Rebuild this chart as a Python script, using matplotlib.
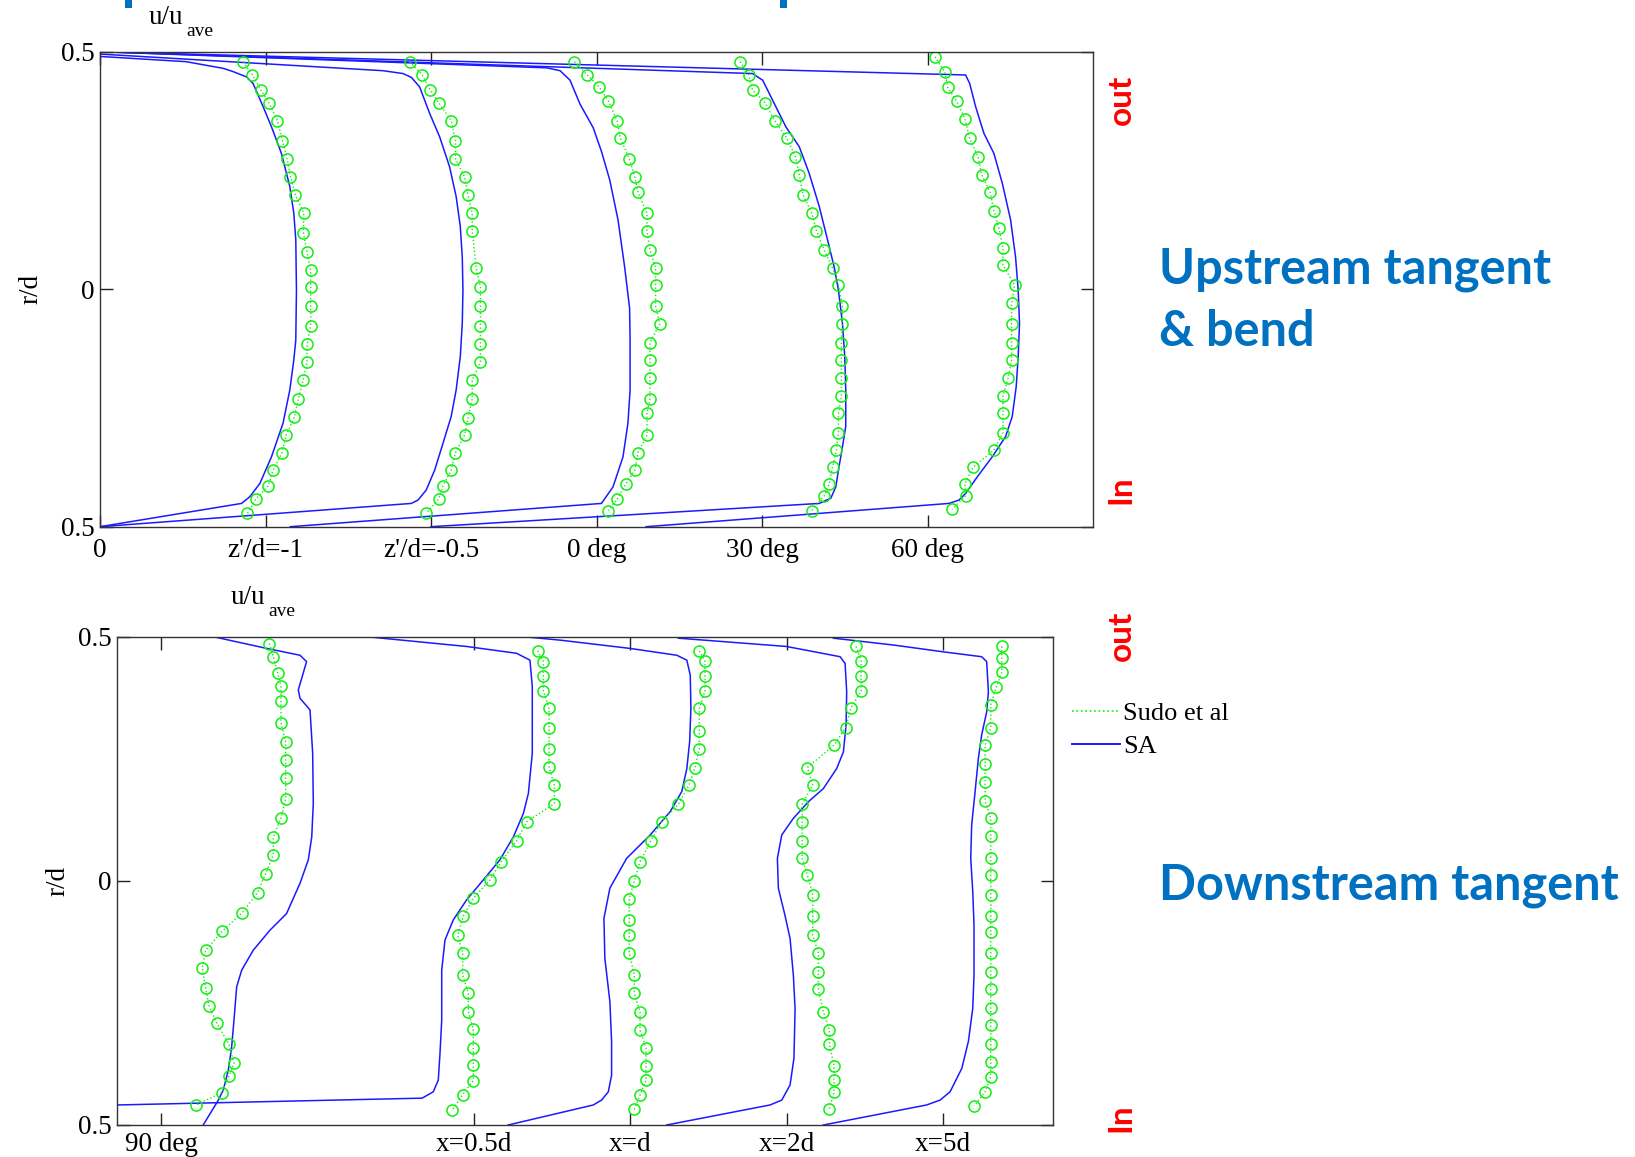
import matplotlib
matplotlib.use("Agg")
import matplotlib.pyplot as plt
from matplotlib.lines import Line2D
from matplotlib.patches import Rectangle

# ---------------- data (abscissa = u/u_ave shifted per station, as plotted) ----------------
top_tick_labels = ["0", "z'/d=-1", "z'/d=-0.5", "0 deg", "30 deg", "60 deg"]
top_tick_pos = [0, 1, 2, 3, 4, 5]
bot_tick_labels = ["90 deg", "x=0.5d", "x=d", "x=2d", "x=5d"]
bot_tick_pos = [0, 2, 3, 4, 5]
y_tick_pos = [-0.5, 0, 0.5]
y_tick_labels = ["0.5", "0", "0.5"]

# --- upstream tangent & bend : SA ---
t0_sa_x = [0.0, 0.52, 0.744, 0.805, 0.885, 0.925, 0.986, 1.036, 1.096, 1.147, 1.171, 1.183, 1.187, 1.183, 1.171, 1.147, 1.106, 1.036, 0.966, 0.905, 0.855, 0.0]
t0_sa_r = [0.49, 0.479, 0.465, 0.458, 0.447, 0.433, 0.384, 0.342, 0.286, 0.216, 0.160, 0.104, -0.002, -0.107, -0.149, -0.212, -0.282, -0.353, -0.409, -0.437, -0.451, -0.5]
t1_sa_x = [0.0, 1.71, 1.831, 1.881, 1.931, 1.992, 2.052, 2.112, 2.152, 2.177, 2.189, 2.193, 2.189, 2.177, 2.152, 2.122, 2.072, 2.022, 1.971, 1.921, 1.881, 0.0]
t1_sa_r = [0.495, 0.46, 0.454, 0.446, 0.426, 0.370, 0.321, 0.258, 0.195, 0.132, 0.068, -0.002, -0.072, -0.142, -0.212, -0.268, -0.325, -0.381, -0.423, -0.444, -0.451, -0.5]
t2_sa_x = [0.0, 2.70, 2.78, 2.84, 2.90, 2.98, 3.03, 3.08, 3.13, 3.17, 3.20, 3.203, 3.203, 3.19, 3.16, 3.10, 3.03, 1.15]
t2_sa_r = [0.5, 0.466, 0.46, 0.44, 0.39, 0.34, 0.29, 0.23, 0.146, 0.047, -0.04, -0.107, -0.212, -0.282, -0.353, -0.416, -0.451, -0.5]
t3_sa_x = [0.0, 3.943, 4.004, 4.064, 4.144, 4.225, 4.285, 4.346, 4.396, 4.436, 4.462, 4.486, 4.500, 4.506, 4.506, 4.486, 4.462, 4.446, 4.416, 4.346, 2.0]
t3_sa_r = [0.5, 0.454, 0.440, 0.398, 0.342, 0.300, 0.244, 0.174, 0.104, 0.047, -0.002, -0.072, -0.142, -0.212, -0.289, -0.332, -0.381, -0.416, -0.440, -0.451, -0.5]
t4_sa_x = [0.0, 5.230, 5.255, 5.291, 5.341, 5.401, 5.452, 5.502, 5.532, 5.548, 5.556, 5.548, 5.536, 5.512, 5.472, 5.391, 5.301, 5.230, 5.190, 5.130, 3.30]
t4_sa_r = [0.5, 0.451, 0.433, 0.384, 0.328, 0.286, 0.223, 0.146, 0.068, -0.002, -0.072, -0.142, -0.205, -0.268, -0.310, -0.353, -0.395, -0.430, -0.444, -0.451, -0.5]

# --- upstream tangent & bend : Sudo et al ---
t0_ex_x = [0.865, 0.919, 0.972, 1.020, 1.072, 1.102, 1.131, 1.151, 1.181, 1.231, 1.229, 1.251, 1.273, 1.273, 1.273, 1.273, 1.251, 1.251, 1.227, 1.199, 1.175, 1.125, 1.100, 1.046, 1.016, 0.941, 0.891]
t0_ex_r = [0.479, 0.452, 0.419, 0.393, 0.355, 0.313, 0.274, 0.237, 0.198, 0.160, 0.118, 0.078, 0.040, 0.004, -0.035, -0.077, -0.116, -0.154, -0.191, -0.231, -0.269, -0.307, -0.344, -0.381, -0.414, -0.442, -0.472]
t1_ex_x = [1.871, 1.945, 1.996, 2.046, 2.122, 2.148, 2.148, 2.203, 2.223, 2.249, 2.249, 2.273, 2.299, 2.299, 2.299, 2.299, 2.299, 2.249, 2.249, 2.223, 2.203, 2.148, 2.122, 2.072, 2.046, 1.971]
t1_ex_r = [0.479, 0.452, 0.419, 0.393, 0.355, 0.313, 0.274, 0.237, 0.198, 0.160, 0.123, 0.045, 0.004, -0.035, -0.077, -0.116, -0.154, -0.191, -0.231, -0.272, -0.307, -0.344, -0.381, -0.414, -0.442, -0.472]
t2_ex_x = [2.867, 2.941, 3.018, 3.072, 3.124, 3.144, 3.199, 3.231, 3.251, 3.305, 3.305, 3.323, 3.357, 3.357, 3.357, 3.382, 3.323, 3.323, 3.323, 3.323, 3.305, 3.305, 3.251, 3.231, 3.177, 3.124, 3.072]
t2_ex_r = [0.479, 0.452, 0.425, 0.396, 0.355, 0.318, 0.274, 0.237, 0.204, 0.160, 0.123, 0.082, 0.045, 0.009, -0.035, -0.073, -0.113, -0.149, -0.186, -0.231, -0.261, -0.307, -0.344, -0.381, -0.410, -0.442, -0.466]
t3_ex_x = [3.868, 3.919, 3.943, 4.019, 4.076, 4.150, 4.202, 4.225, 4.249, 4.301, 4.329, 4.376, 4.426, 4.462, 4.486, 4.486, 4.480, 4.480, 4.480, 4.480, 4.462, 4.462, 4.450, 4.426, 4.406, 4.376, 4.301]
t3_ex_r = [0.479, 0.452, 0.419, 0.393, 0.355, 0.318, 0.279, 0.241, 0.198, 0.160, 0.123, 0.082, 0.045, 0.009, -0.035, -0.073, -0.113, -0.149, -0.186, -0.225, -0.261, -0.302, -0.339, -0.375, -0.410, -0.435, -0.466]
t4_ex_x = [5.045, 5.104, 5.122, 5.176, 5.226, 5.254, 5.305, 5.327, 5.379, 5.401, 5.432, 5.456, 5.456, 5.526, 5.508, 5.508, 5.508, 5.508, 5.488, 5.456, 5.456, 5.456, 5.401, 5.275, 5.226, 5.230, 5.150]
t4_ex_r = [0.489, 0.458, 0.425, 0.396, 0.359, 0.318, 0.279, 0.241, 0.204, 0.165, 0.128, 0.087, 0.051, 0.009, -0.030, -0.073, -0.113, -0.149, -0.186, -0.225, -0.261, -0.302, -0.339, -0.375, -0.410, -0.435, -0.463]

# --- downstream tangent : SA ---
b0_sa_x = [0.335, 0.676, 0.889, 0.931, 0.878, 0.889, 0.953, 0.970, 0.974, 0.964, 0.942, 0.889, 0.803, 0.697, 0.590, 0.516, 0.484, 0.467, 0.452, 0.431, 0.399, 0.367, 0.27]
b0_sa_r = [0.5, 0.476, 0.462, 0.449, 0.391, 0.374, 0.350, 0.261, 0.159, 0.090, 0.043, -0.005, -0.067, -0.101, -0.142, -0.183, -0.217, -0.285, -0.340, -0.387, -0.428, -0.449, -0.5]
b1_sa_x = [1.315, 1.954, 2.274, 2.359, 2.374, 2.374, 2.349, 2.317, 2.253, 2.167, 2.061, 1.954, 1.869, 1.816, 1.795, 1.795, 1.784, 1.773, 1.741, 1.67, -0.281]
b1_sa_r = [0.5, 0.480, 0.466, 0.452, 0.398, 0.261, 0.179, 0.138, 0.090, 0.043, 0.002, -0.039, -0.080, -0.121, -0.183, -0.285, -0.353, -0.408, -0.432, -0.445, -0.459]
b2_sa_x = [2.32, 2.551, 2.999, 3.298, 3.362, 3.384, 3.388, 3.380, 3.362, 3.330, 3.256, 3.128, 2.977, 2.870, 2.832, 2.838, 2.870, 2.881, 2.881, 2.860, 2.817, 2.764, 2.22]
b2_sa_r = [0.5, 0.493, 0.476, 0.462, 0.452, 0.421, 0.353, 0.285, 0.230, 0.183, 0.142, 0.094, 0.046, -0.015, -0.077, -0.159, -0.247, -0.329, -0.398, -0.432, -0.449, -0.459, -0.5]
b3_sa_x = [3.308, 3.999, 4.342, 4.374, 4.384, 4.380, 4.363, 4.320, 4.235, 4.139, 4.043, 3.969, 3.941, 3.947, 3.989, 4.022, 4.043, 4.054, 4.047, 4.022, 3.969, 3.894, 3.233]
b3_sa_r = [0.497, 0.480, 0.459, 0.445, 0.387, 0.319, 0.264, 0.230, 0.189, 0.162, 0.128, 0.094, 0.046, -0.015, -0.070, -0.118, -0.193, -0.261, -0.363, -0.418, -0.449, -0.459, -0.5]
b4_sa_x = [4.299, 4.682, 5.002, 5.247, 5.279, 5.290, 5.279, 5.247, 5.226, 5.205, 5.183, 5.177, 5.190, 5.198, 5.198, 5.190, 5.162, 5.120, 5.045, 4.981, 4.895, 4.235]
b4_sa_r = [0.497, 0.483, 0.469, 0.459, 0.449, 0.387, 0.346, 0.299, 0.251, 0.183, 0.114, 0.046, -0.022, -0.090, -0.193, -0.261, -0.329, -0.384, -0.432, -0.449, -0.459, -0.5]

# --- downstream tangent : Sudo et al ---
b0_ex_x = [0.693, 0.718, 0.746, 0.767, 0.767, 0.767, 0.797, 0.797, 0.797, 0.797, 0.767, 0.718, 0.718, 0.669, 0.618, 0.520, 0.392, 0.286, 0.264, 0.286, 0.307, 0.358, 0.435, 0.467, 0.435, 0.388, 0.224]
b0_ex_r = [0.486, 0.459, 0.426, 0.399, 0.368, 0.324, 0.285, 0.247, 0.211, 0.167, 0.128, 0.089, 0.053, 0.015, -0.024, -0.065, -0.103, -0.142, -0.178, -0.220, -0.256, -0.292, -0.335, -0.374, -0.400, -0.434, -0.459]
b1_ex_x = [2.408, 2.445, 2.445, 2.445, 2.481, 2.481, 2.481, 2.481, 2.515, 2.515, 2.338, 2.274, 2.174, 2.104, 1.997, 1.933, 1.897, 1.929, 1.929, 1.965, 1.965, 1.997, 1.997, 1.997, 1.997, 1.929, 1.86]
b1_ex_r = [0.471, 0.449, 0.420, 0.389, 0.353, 0.314, 0.271, 0.233, 0.196, 0.158, 0.121, 0.082, 0.039, 0.002, -0.036, -0.072, -0.111, -0.147, -0.193, -0.230, -0.268, -0.304, -0.342, -0.378, -0.409, -0.438, -0.470]
b2_ex_x = [3.442, 3.478, 3.478, 3.478, 3.442, 3.442, 3.442, 3.414, 3.376, 3.308, 3.201, 3.131, 3.063, 3.026, 2.994, 2.994, 2.994, 2.994, 3.026, 3.026, 3.063, 3.063, 3.101, 3.101, 3.101, 3.063, 3.026]
b2_ex_r = [0.471, 0.450, 0.420, 0.389, 0.353, 0.307, 0.271, 0.232, 0.196, 0.157, 0.121, 0.082, 0.039, 0.000, -0.037, -0.080, -0.111, -0.148, -0.193, -0.230, -0.268, -0.306, -0.343, -0.379, -0.408, -0.439, -0.468]
b3_ex_x = [4.444, 4.476, 4.476, 4.476, 4.410, 4.378, 4.303, 4.133, 4.167, 4.099, 4.099, 4.099, 4.099, 4.133, 4.167, 4.167, 4.167, 4.203, 4.203, 4.203, 4.235, 4.274, 4.274, 4.303, 4.303, 4.303, 4.274]
b3_ex_r = [0.480, 0.450, 0.420, 0.389, 0.353, 0.314, 0.278, 0.232, 0.196, 0.157, 0.121, 0.082, 0.046, 0.011, -0.028, -0.072, -0.111, -0.148, -0.186, -0.222, -0.268, -0.306, -0.335, -0.379, -0.408, -0.432, -0.468]
b4_ex_x = [5.375, 5.375, 5.375, 5.339, 5.305, 5.305, 5.269, 5.269, 5.269, 5.269, 5.305, 5.305, 5.305, 5.305, 5.305, 5.305, 5.305, 5.305, 5.305, 5.305, 5.305, 5.305, 5.305, 5.305, 5.305, 5.269, 5.199]
b4_ex_r = [0.480, 0.456, 0.427, 0.396, 0.360, 0.314, 0.278, 0.239, 0.203, 0.164, 0.128, 0.092, 0.046, 0.011, -0.028, -0.072, -0.104, -0.148, -0.186, -0.222, -0.261, -0.295, -0.335, -0.372, -0.401, -0.432, -0.461]

top_sa = [(t0_sa_x, t0_sa_r), (t1_sa_x, t1_sa_r), (t2_sa_x, t2_sa_r), (t3_sa_x, t3_sa_r), (t4_sa_x, t4_sa_r)]
top_ex = [(t0_ex_x, t0_ex_r), (t1_ex_x, t1_ex_r), (t2_ex_x, t2_ex_r), (t3_ex_x, t3_ex_r), (t4_ex_x, t4_ex_r)]
bot_sa = [(b0_sa_x, b0_sa_r), (b1_sa_x, b1_sa_r), (b2_sa_x, b2_sa_r), (b3_sa_x, b3_sa_r), (b4_sa_x, b4_sa_r)]
bot_ex = [(b0_ex_x, b0_ex_r), (b1_ex_x, b1_ex_r), (b2_ex_x, b2_ex_r), (b3_ex_x, b3_ex_r), (b4_ex_x, b4_ex_r)]

# ---------------- figure ----------------
W, H = 1635, 1157
fig = plt.figure(figsize=(W / 100, H / 100), dpi=100)
fig.patch.set_facecolor("white")

SERIF = "Liberation Serif"
SANS = "Lato"
SA_COLOR = "#1a1aff"
EX_COLOR = "#11ee11"
TITLE_BLUE = "#0070C0"


def fx(px):
    return px / W


def fy(py):
    return 1 - py / H


def make_axes(left, top, right, bottom):
    return fig.add_axes([fx(left), fy(bottom), fx(right - left), (bottom - top) / H])


ax1 = make_axes(100, 51.7, 1093, 526.7)
ax2 = make_axes(117, 636.7, 1053, 1125)


def style(ax, xlim, ticks, labels, xpad):
    ax.set_xlim(*xlim)
    ax.set_ylim(-0.5, 0.5)
    ax.set_xticks(ticks)
    ax.set_xticklabels(labels, fontfamily=SERIF, fontsize=19.5)
    ax.set_yticks(y_tick_pos)
    ax.set_yticklabels(y_tick_labels, fontfamily=SERIF, fontsize=19.5)
    ax.tick_params(direction="in", length=9, width=1, top=True, right=True,
                   colors="#222222", labelcolor="black")
    ax.tick_params(axis="x", pad=xpad)
    ax.tick_params(axis="y", pad=4)
    for s in ax.spines.values():
        s.set_linewidth(1.0)
        s.set_color("#333333")


def draw(ax, sa, ex):
    for x, r in sa:
        ax.plot(x, r, color=SA_COLOR, lw=1.1, solid_joinstyle="round")
    for x, r in ex:
        ax.plot(x, r, linestyle=":", color=EX_COLOR, lw=1.0, marker="o",
                markersize=8, markerfacecolor="none", markeredgecolor=EX_COLOR,
                markeredgewidth=1.1)


draw(ax1, top_sa, top_ex)
draw(ax2, bot_sa, bot_ex)
style(ax1, (0, 6), top_tick_pos, top_tick_labels, 8)
style(ax2, (-0.281, 5.703), bot_tick_pos, bot_tick_labels, 5)

# axis labels (MATLAB-style placement)
for (ux, uy) in [(149, 17), (231, 598)]:
    fig.text(fx(ux), fy(uy), "u/u", fontfamily=SERIF, fontsize=19.5, ha="left", va="center")
    fig.text(fx(ux + 37), fy(uy + 14), "ave", fontfamily=SERIF, fontsize=14, ha="left", va="center")
fig.text(fx(31), fy(289), "r/d", fontfamily=SERIF, fontsize=19.5, rotation=90, ha="center", va="center")
fig.text(fx(58), fy(881), "r/d", fontfamily=SERIF, fontsize=19.5, rotation=90, ha="center", va="center")

# legend
handles = [Line2D([], [], color=EX_COLOR, linestyle=":", lw=1.2),
           Line2D([], [], color=SA_COLOR, lw=1.4)]
fig.legend(handles, ["Sudo et al", "SA"], loc="upper left",
           bbox_to_anchor=(fx(1072), fy(702)), frameon=False,
           prop={"family": SERIF, "size": 19}, handlelength=1.8,
           handletextpad=0.15, labelspacing=0.35, borderpad=0, borderaxespad=0)

# slide annotations
for (py, txt) in [(99.5, "out"), (490, "In"), (635.5, "out"), (1118, "In")]:
    fig.text(fx(1121), fy(py), txt, color="red", fontfamily=SANS, fontweight="bold",
             fontsize=24, rotation=90, ha="center", va="center")

fig.text(fx(1159), fy(283.6), "Upstream tangent", color=TITLE_BLUE, fontfamily=SANS,
         fontweight="bold", fontsize=35, ha="left", va="baseline")
fig.text(fx(1159), fy(346), "& bend", color=TITLE_BLUE, fontfamily=SANS,
         fontweight="bold", fontsize=35, ha="left", va="baseline")
fig.text(fx(1159), fy(899), "Downstream tangent", color=TITLE_BLUE, fontfamily=SANS,
         fontweight="bold", fontsize=35, ha="left", va="baseline")

# remnants of the cropped slide title along the top edge
for left in (125, 780):
    fig.patches.append(Rectangle((fx(left), fy(8)), fx(7), 8 / H, transform=fig.transFigure,
                                 facecolor=TITLE_BLUE, edgecolor="none"))

fig.savefig("out.png", dpi=100, facecolor="white")
